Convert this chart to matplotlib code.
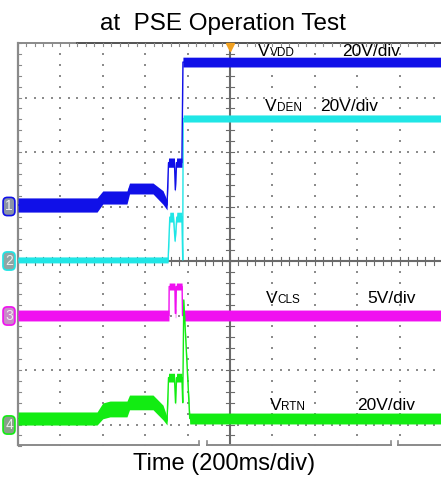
import matplotlib
matplotlib.use("Agg")
import matplotlib.pyplot as plt
import numpy as np

plt.rcParams['font.family'] = ['Liberation Sans', 'DejaVu Sans']

# ---------------- data (time in ms, voltage in V) ----------------
MS_PER_DIV = 200
ch_names = ["VVDD", "VDEN", "VCLS", "VRTN"]
ch_scale = [20, 20, 5, 20]          # V/div
ch_offset_div = [1.0, 0.0, -1.0, -3.0]

vdd_t = [-1000, -627, -600, -486, -474, -363, -316, -297, -290, -262, -258, -252, -227, -222, 995]
vdd_v = [0.55, 0.55, 3.3, 3.3, 6.6, 6.6, 3.3, 0.55, 16.1, 16.1, 6.1, 16.1, 16.1, 53.0, 53.0]
vdd_n = [2.6, 2.6, 2.4, 2.4, 2.0, 2.0, 2.5, 1.8, 1.7, 1.7, 0.8, 1.7, 1.7, 1.8, 1.8]

den_t = [-1000, -292, -284, -267, -259, -251, -227, -223, -221, 995]
den_v = [0.4, 0.4, 16.1, 16.1, 7.3, 16.1, 16.1, 0.4, 52.3, 52.3]
den_n = [1.1, 1.1, 1.8, 1.8, 0.5, 1.8, 1.8, 0.5, 1.3, 1.3]

cls_t = [-1000, -288, -287, -260, -258, -256, -253, -226, -224, 995]
cls_v = [0.0, 0.0, 2.66, 2.66, 0.2, 0.2, 2.66, 2.66, 0.0, 0.0]
cls_n = [0.5, 0.5, 0.32, 0.32, 0.4, 0.4, 0.32, 0.32, 0.5, 0.5]

rtn_t = [-1000, -627, -600, -566, -486, -474, -363, -316, -297, -290, -262, -257, -252, -227, -223, -218, -190, 995]
rtn_v = [2.2, 2.2, 5.0, 5.7, 5.7, 8.1, 8.1, 4.4, 1.3, 17.2, 17.2, 7.9, 17.2, 17.2, 8.0, 45.7, 2.2, 2.2]
rtn_n = [2.4, 2.4, 2.9, 2.9, 2.9, 2.7, 2.7, 2.7, 1.5, 1.6, 1.6, 0.8, 1.6, 1.6, 0.5, 0.3, 2.0, 2.0]

volt_labels = ["20V/div", "20V/div", "5V/div", "20V/div"]
title = "at  PSE Operation Test"
xlabel = "Time (200ms/div)"

# ---------------- figure ----------------
W, H = 441, 478
fig = plt.figure(figsize=(W / 100, H / 100), dpi=100)
fig.patch.set_facecolor("white")
ax = fig.add_axes([18 / W, 1 - 445 / H, (441 - 18) / W, (445 - 43) / H])
ax.set_xlim(-5, 4.976)
ax.set_ylim(-3.376, 4.0)
ax.axis("off")

# grid dots
dot_col = "#8c8c8c"
gx, gy = [], []
for xv in range(-4, 5):
    if xv == 0:
        continue
    for yv in np.arange(-3.4, 4.01, 0.2):
        gx.append(xv); gy.append(yv)
for yv in range(-3, 4):
    if yv == 0:
        continue
    for xv in np.arange(-5, 5.01, 0.2):
        gx.append(xv); gy.append(yv)
ax.scatter(gx, gy, s=1.3, marker="s", color=dot_col, linewidths=0, zorder=1)

# centre axes with ticks
ax_col = "#6a6a6a"
ax.axhline(0, color=ax_col, lw=1.5, zorder=2)
ax.axvline(0, color=ax_col, lw=1.5, zorder=2)
for xv in np.arange(-5, 5.01, 0.2):
    ax.plot([xv, xv], [-0.075, 0.075], color=ax_col, lw=0.8, zorder=2)
for yv in np.arange(-3.4, 4.01, 0.2):
    ax.plot([-0.09, 0.09], [yv, yv], color=ax_col, lw=0.8, zorder=2)

# borders
b_col = "#8a8a8a"
ax.plot([-5, -5], [-3.376, 4.0], color=b_col, lw=1.6, clip_on=False, zorder=2)
ax.plot([-5, 4.976], [4.0, 4.0], color=b_col, lw=1.4, clip_on=False, zorder=2)
ax.plot([-3.6, 4.976], [4.0, 4.0], color="#555555", lw=1.4, clip_on=False, zorder=2)
for yv in np.arange(-3.4, 4.01, 0.2):
    ax.plot([-5, -4.93], [yv, yv], color=b_col, lw=0.8, clip_on=False, zorder=2)
for xv in np.arange(-5, 5.01, 0.2):
    ax.plot([xv, xv], [4.0, 3.94], color=b_col, lw=0.8, clip_on=False, zorder=2)
ax.plot([-5, -0.72], [-3.376, -3.376], color=b_col, lw=1.4, clip_on=False, zorder=2)
ax.plot([-0.55, 3.8], [-3.376, -3.376], color=b_col, lw=1.4, clip_on=False, zorder=2)
ax.plot([3.97, 4.976], [-3.376, -3.376], color=b_col, lw=1.4, clip_on=False, zorder=2)
for xv in [-0.72, -0.55, 3.8, 3.97]:
    ax.plot([xv, xv], [-3.376, -3.3], color=b_col, lw=1.2, clip_on=False, zorder=2)

# trigger marker
ax.plot([0], [3.93], marker="v", color="#f0a020", markersize=6, clip_on=False, zorder=6)

# traces
def draw(t, v, n, ch, color, z):
    t = np.asarray(t, float) / MS_PER_DIV
    v = np.asarray(v, float)
    n = np.asarray(n, float)
    c = v / ch_scale[ch] + ch_offset_div[ch]
    hn = n / ch_scale[ch]
    ax.fill_between(t, c - hn, c + hn, color=color, lw=0, zorder=z)
    ax.plot(t, c, color=color, lw=1.0, zorder=z)

col_vdd = "#1010e8"
col_den = "#20e6e6"
col_cls = "#f010f0"
col_rtn = "#12ec12"
draw(den_t, den_v, den_n, 1, col_den, 3)
draw(vdd_t, vdd_v, vdd_n, 0, col_vdd, 4)
draw(cls_t, cls_v, cls_n, 2, col_cls, 4)
draw(rtn_t, rtn_v, rtn_n, 3, col_rtn, 5)

# channel markers
def px(x, y):
    return x / W, 1 - y / H

markers = [("1", 206.5, "#8a93a6", col_vdd), ("2", 261, "#8fa5a5", col_den),
           ("3", 316, "#c88ac8", col_cls), ("4", 425, "#88a088", col_rtn)]
for lab, yy, fc, ec in markers:
    fig.text(*px(9, yy), lab, ha="center", va="center", fontsize=10, color="#eeeeee",
             bbox=dict(boxstyle="round,pad=0.15,rounding_size=0.3", fc=fc, ec=ec, lw=1.2))

# channel labels
lab_rows = [(258, 56, "VDD", 342), (265, 111, "DEN", 320), (266, 303, "CLS", 367), (270, 410, "RTN", 357)]
for i, (xv, yb, sub, xs) in enumerate(lab_rows):
    fig.text(*px(xv, yb), "V", fontsize=12.5, va="baseline", ha="left", color="black")
    fig.text(*px(xv + 11.5, yb), sub, fontsize=8.5, va="baseline", ha="left", color="black")
    fig.text(*px(xs, yb), volt_labels[i], fontsize=12.5, va="baseline", ha="left", color="black")

fig.text(*px(222.5, 30), title, fontsize=17.5, ha="center", va="baseline", color="black")
fig.text(*px(224.5, 470), xlabel, fontsize=17, ha="center", va="baseline", color="black")

fig.savefig("out.png", dpi=100, facecolor="white")
